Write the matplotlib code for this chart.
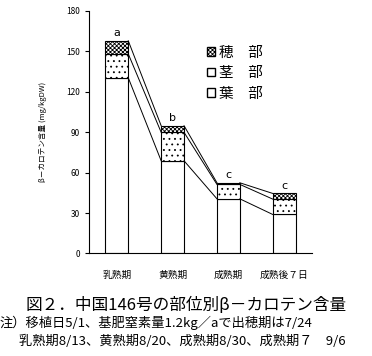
import numpy as np
import matplotlib
matplotlib.use('Agg')
import matplotlib.pyplot as plt
from matplotlib.patches import Patch

plt.rcParams['font.family'] = ['Noto Sans CJK JP', 'DejaVu Sans']
plt.rcParams['hatch.linewidth'] = 0.6

stages = ['乳熟期', '黄熟期', '成熟期', '成熟後７日']
leaf = [130.3, 68.7, 40.5, 28.9]
stem = [17.7, 21.1, 10.7, 11.4]
ear = [9.7, 4.9, 1.2, 4.2]
letters = ['a', 'b', 'c', 'c']
parts = ['穂　部', '茎　部', '葉　部']

fig = plt.figure(figsize=(3.72, 3.56), dpi=100)
ax = fig.add_axes([0.239, 0.288, 0.600, 0.682])

x = np.arange(len(stages))
w = 0.41
leaf = np.array(leaf)
stem = np.array(stem)
ear = np.array(ear)

ax.bar(x, leaf, w, color='white', edgecolor='black', linewidth=0.8)
ax.bar(x, stem, w, bottom=leaf, color='white', edgecolor='black',
       linewidth=0.8, hatch='...')
ax.bar(x, ear, w, bottom=leaf + stem, color='white', edgecolor='black',
       linewidth=0.8, hatch='xxxxxxxx')

# connecting lines between bars
for level in [leaf, leaf + stem, leaf + stem + ear]:
    for i in range(len(x) - 1):
        ax.plot([x[i] + w / 2, x[i + 1] - w / 2], [level[i], level[i + 1]],
                color='black', linewidth=0.7)

tops = leaf + stem + ear
for i, t in enumerate(letters):
    ax.text(x[i], tops[i] + 2, t, ha='center', va='bottom', fontsize=8,
            family='DejaVu Sans')

ax.set_xlim(-0.5, 3.5)
ax.set_ylim(0, 180)
ax.set_yticks(range(0, 181, 30))
ax.tick_params(axis='y', labelsize=6, length=3, width=0.8)
ax.tick_params(axis='x', length=0, labelsize=7, pad=12)
ax.set_xticks(x)
ax.set_xticklabels(stages)
for s in ['top', 'right']:
    ax.spines[s].set_visible(False)
for s in ['left', 'bottom']:
    ax.spines[s].set_linewidth(0.8)

ax.set_ylabel('β－カロテン含量 (mg/kgDW)', fontsize=5.5, labelpad=14)

handles = [Patch(facecolor='white', edgecolor='black', hatch='xxxxxxxx'),
           Patch(facecolor='white', edgecolor='black'),
           Patch(facecolor='white', edgecolor='black')]
ax.legend(handles, parts, loc='upper left', bbox_to_anchor=(0.47, 0.91),
          frameon=False, fontsize=10.5, handlelength=0.55, handleheight=0.55,
          handletextpad=0.3, labelspacing=0.45)

fig.text(0.5, 0.143, '図２．中国146号の部位別β－カロテン含量', ha='center',
         va='center', fontsize=12)
fig.text(0.0, 0.093, '注）移植日5/1、基肥窒素量1.2kg／aで出穂期は7/24',
         ha='left', va='center', fontsize=9.5)
fig.text(0.05, 0.042, '乳熟期8/13、黄熟期8/20、成熟期8/30、成熟期７　9/6',
         ha='left', va='center', fontsize=9.5)

fig.savefig('out.png', dpi=100)
